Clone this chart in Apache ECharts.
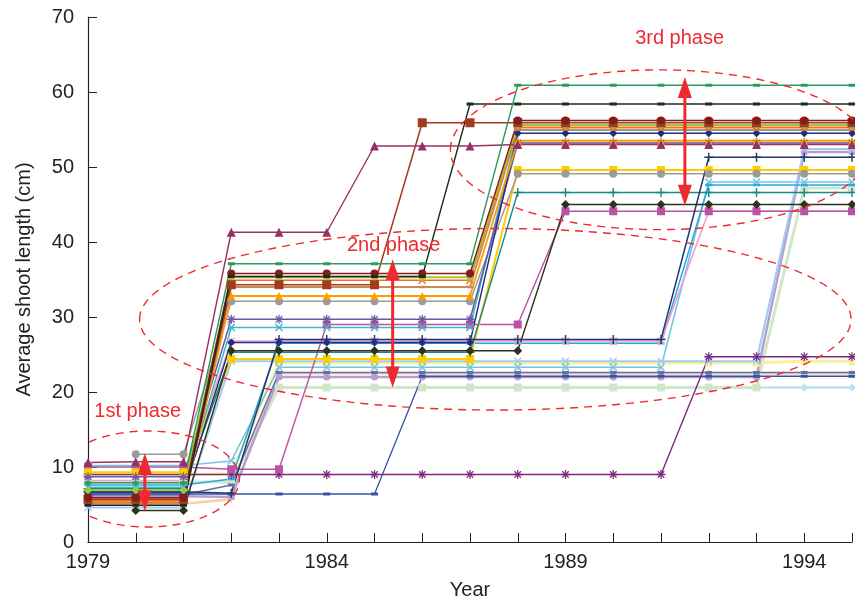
<!DOCTYPE html>
<html><head><meta charset="utf-8">
<script src="https://cdn.jsdelivr.net/npm/echarts@6/dist/echarts.min.js"></script>
<style>html,body{margin:0;padding:0;background:#fff}#c{width:855px;height:605px}</style>
</head><body><div id="c"></div>
<script>
// Years 1979..1995
const years = [1979,1980,1981,1982,1983,1984,1985,1986,1987,1988,1989,1990,1991,1992,1993,1994,1995];
const xLabelYears = [1979,1984,1989,1994];
const yTicks = [0,10,20,30,40,50,60,70];

// series values (cm), one per year; null = no observation
const sGreen     = [7.9,7.9,7.9,37.1,37.1,37.1,37.1,37.1,37.1,60.9,60.9,60.9,60.9,60.9,60.9,60.9,60.9];
const sBlack     = [4.9,4.9,4.9,35.4,35.4,35.4,35.4,35.4,58.4,58.4,58.4,58.4,58.4,58.4,58.4,58.4,58.4];
const sMaroon    = [5.9,5.9,5.9,35.8,35.8,35.8,35.8,35.8,35.8,56.2,56.2,56.2,56.2,56.2,56.2,56.2,56.2];
const sSienna    = [5.7,5.7,5.7,34.3,34.3,34.3,34.3,55.9,55.9,55.9,55.9,55.9,55.9,55.9,55.9,55.9,55.9];
const sLime      = [6.9,6.9,6.9,35.3,35.3,35.3,35.3,35.3,35.3,55.6,55.6,55.6,55.6,55.6,55.6,55.6,55.6];
const sOrangeRed = [5.5,5.5,5.5,34.9,34.9,34.9,34.9,34.9,34.9,55.3,55.3,55.3,55.3,55.3,55.3,55.3,55.3];
const sPeru      = [5.2,5.2,5.2,34.0,34.0,34.0,34.0,34.0,34.0,55.0,55.0,55.0,55.0,55.0,55.0,55.0,55.0];
const sNavyDia   = [6.6,6.6,6.6,26.6,26.6,26.6,26.6,26.6,26.6,54.5,54.5,54.5,54.5,54.5,54.5,54.5,54.5];
const sOrange    = [5.4,5.4,5.4,32.8,32.8,32.8,32.8,32.8,32.8,53.5,53.5,53.5,53.5,53.5,53.5,53.5,53.5];
const sPlum      = [10.6,10.7,10.7,41.3,41.3,41.3,52.8,52.8,52.8,53.0,53.0,53.0,53.0,53.0,53.0,53.0,53.0];
const sSlate     = [8.7,8.7,8.7,29.7,29.7,29.7,29.7,29.7,29.7,53.2,53.2,53.2,53.2,53.2,53.2,53.2,53.2];
const sTealCyan  = [7.3,7.3,7.3,28.6,28.6,28.6,28.6,28.6,28.6,54.9,54.9,54.9,54.9,54.9,54.9,54.9,54.9];
const sGold      = [9.3,9.3,9.3,24.4,24.4,24.4,24.4,24.4,24.4,49.6,49.6,49.6,49.6,49.6,49.6,49.6,49.6];
const sGrey      = [null,11.7,11.7,32.1,32.1,32.1,32.1,32.1,32.1,49.1,49.1,49.1,49.1,49.1,49.1,49.1,49.1];
const sTealPlus  = [7.1,7.1,7.1,25.3,25.3,25.3,25.3,25.3,25.3,46.6,46.6,46.6,46.6,46.6,46.6,46.6,46.6];
const sOlive     = [null,4.2,4.2,25.5,25.5,25.5,25.5,25.5,25.5,25.5,45.0,45.0,45.0,45.0,45.0,45.0,45.0];
const sMagenta   = [10.0,10.0,10.0,9.7,9.7,29.0,29.0,29.0,29.0,29.0,44.1,44.1,44.1,44.1,44.1,44.1,44.1];
const sPink      = [8.2,8.2,8.2,26.8,26.8,26.8,26.8,26.8,26.8,26.8,26.8,26.8,26.8,44.1,44.1,44.1,44.1];
const sNavyPlus  = [6.7,6.7,6.7,6.5,27.0,27.0,27.0,27.0,27.0,27.0,27.0,27.0,27.0,51.3,51.3,51.3,51.3];
const sSkyX      = [10.2,10.2,10.2,10.8,23.3,23.3,23.3,23.3,23.3,23.3,23.3,23.3,23.3,48.0,48.0,48.0,48.0];
const sDeepSky   = [7.6,7.6,7.6,8.4,26.5,26.5,26.5,26.5,26.5,26.5,26.5,26.5,26.5,47.6,47.6,47.6,47.6];
const sPaleYel   = [9.0,9.0,9.0,9.1,23.9,23.9,23.9,23.9,23.9,23.9,23.9,23.9,23.9,23.9,23.9,24.1,24.1];
const sLightBlue = [4.6,4.6,4.6,24.1,24.1,24.1,24.1,24.1,24.1,24.1,24.1,24.1,24.1,24.1,24.1,52.4,52.4];
const sLavender  = [6.1,6.1,6.1,6.0,22.0,22.0,22.0,22.0,22.0,22.0,22.0,22.0,22.0,22.0,22.0,52.0,52.0];
const sPaleGreen = [8.0,8.0,8.0,8.0,20.6,20.6,20.6,20.6,20.6,20.6,20.6,20.6,20.6,20.6,20.6,47.2,47.2];
const sPaleCyan  = [null,null,null,null,null,null,null,null,null,null,null,null,null,null,20.6,20.6,20.6];
const sSlateDash = [6.3,6.3,6.3,7.6,22.6,22.6,22.6,22.6,22.6,22.6,22.6,22.6,22.6,22.6,22.6,22.6,22.6];
const sRoyal     = [6.4,6.4,6.4,6.4,6.4,6.4,6.4,22.1,22.1,22.1,22.1,22.1,22.1,22.1,22.1,22.1,22.1];
const sPurpleX   = [9.0,9.0,9.0,9.0,9.0,9.0,9.0,9.0,9.0,9.0,9.0,9.0,9.0,24.7,24.7,24.7,24.7];
const sPeach     = [5.1,5.1,5.1,5.7,22.5,22.5,22.5,22.5,22.5,22.5,22.5,22.5,22.5,22.5,22.5,22.5,22.5];

const SYM_X = 'path://M0,1.3L1.3,0L5,3.7L8.7,0L10,1.3L6.3,5L10,8.7L8.7,10L5,6.3L1.3,10L0,8.7L3.7,5Z';
const SYM_PLUS = 'path://M4.2,0H5.8V4.2H10V5.8H5.8V10H4.2V5.8H0V4.2H4.2Z';
const SYM_STAR = 'path://M4.3,0H5.7V3.3L8.1,0.9L9.1,1.9L6.7,4.3H10V5.7H6.7L9.1,8.1L8.1,9.1L5.7,6.7V10H4.3V6.7L1.9,9.1L0.9,8.1L3.3,5.7H0V4.3H3.3L0.9,1.9L1.9,0.9L4.3,3.3Z';
const DASH = 'rect';

// style table (drawn in this order: pale first)
const seriesDefs = [
  {d:sPaleCyan,  c:'#bfe3ee', s:'diamond', z:8, w:2.5},
  {d:sPaleGreen, c:'#cfe7c9', s:'rect', z:8, w:3},
  {d:sPaleYel,   c:'#fbf09a', s:'triangle', z:8, w:3},
  {d:sPeach,     c:'#fbcf9f', s:SYM_PLUS, z:8, w:2.5},
  {d:sLavender,  c:'#b99dce', s:'circle', z:7, w:2.5},
  {d:sLightBlue, c:'#a2cbf2', s:SYM_X, z:8, w:2.2},
  {d:sSkyX,      c:'#72c6e4', s:SYM_X, z:8, w:1.6},
  {d:sDeepSky,   c:'#26a9e0', s:DASH, z:[7,2.5], w:1.5},
  {d:sPink,      c:'#f59cc8', s:SYM_X, z:8, w:1.6},
  {d:sSlateDash, c:'#6070a8', s:DASH, z:[7,3], w:1.5},
  {d:sRoyal,     c:'#3553a5', s:DASH, z:[7,3], w:1.3},
  {d:sPurpleX,   c:'#7b2a82', s:SYM_STAR, z:9, w:1.4},
  {d:sMagenta,   c:'#bb52a6', s:'rect', z:8, w:1.4},
  {d:sGold,      c:'#ffcc00', s:'rect', z:8, w:2},
  {d:sGrey,      c:'#9b9b9b', s:'circle', z:8, w:1.5},
  {d:sTealPlus,  c:'#17898a', s:SYM_PLUS, z:9, w:1.4},
  {d:sTealCyan,  c:'#3dbcc6', s:SYM_X, z:8, w:1.6},
  {d:sSlate,     c:'#6a5aa6', s:SYM_STAR, z:9, w:1.5},
  {d:sNavyPlus,  c:'#1f3a6e', s:SYM_PLUS, z:9, w:1.5},
  {d:sOlive,     c:'#2c3320', s:'diamond', z:9, w:1.4},
  {d:sNavyDia,   c:'#1f2d82', s:'diamond', z:8, w:1.4},
  {d:sOrange,    c:'#ff9d00', s:'triangle', z:8, w:1.8},
  {d:sPeru,      c:'#c98a5c', s:DASH, z:[7,2.5], w:1.8},
  {d:sOrangeRed, c:'#ff6b1f', s:SYM_X, z:8, w:1.3},
  {d:sLime,      c:'#98c93a', s:'diamond', z:9, w:1.8},
  {d:sSienna,    c:'#a23a1e', s:'rect', z:9, w:1.5},
  {d:sMaroon,    c:'#861b1b', s:'circle', z:8, w:1.4},
  {d:sBlack,     c:'#1c2a1c', s:DASH, z:[7,3], w:1.4},
  {d:sPlum,      c:'#963366', s:'triangle', z:9, w:1.4},
  {d:sGreen,     c:'#2c9c5c', s:DASH, z:[7,3], w:1.4}
];

const chart = echarts.init(document.getElementById('c'), null, {renderer:'canvas'});
const FONT = 'Liberation Sans, Arial, Helvetica, sans-serif';

const series = seriesDefs.map(def => ({
  type:'line',
  data: years.map((y,i)=>[y, def.d[i]]).filter(p=>p[1]!==null),
  symbol: def.s,
  symbolSize: def.z,
  symbolKeepAspect: true,
  showSymbol: true,
  showAllSymbol: true,
  lineStyle: {color:def.c, width:def.w},
  itemStyle: {color:def.c},
  emphasis: {disabled:true},
  silent: true,
  animation: false
}));

const option = {
  animation:false,
  backgroundColor:'#fff',
  grid:{left:88, right:0, top:17, bottom:62, containLabel:false},
  xAxis:{
    type:'value', min:1979, max:1995, interval:1,
    name:'Year', nameLocation:'middle', nameGap:38,
    nameTextStyle:{fontSize:20, color:'#222', fontFamily:FONT},
    axisLine:{show:true, lineStyle:{color:'#222', width:1.2}},
    axisTick:{show:true, inside:true, length:9, lineStyle:{color:'#222'}},
    axisLabel:{fontSize:20, color:'#222', fontFamily:FONT, margin:10,
      formatter:v=> xLabelYears.indexOf(v)>=0 ? String(v) : ''},
    splitLine:{show:false}
  },
  yAxis:{
    type:'value', min:yTicks[0], max:yTicks[yTicks.length-1], interval:10,
    name:'Average shoot length (cm)', nameLocation:'middle', nameGap:54,
    nameTextStyle:{fontSize:20, color:'#222', fontFamily:FONT},
    axisLine:{show:true, lineStyle:{color:'#222', width:1.2}},
    axisTick:{show:true, inside:true, length:9, lineStyle:{color:'#222'}},
    axisLabel:{fontSize:20, color:'#222', fontFamily:FONT, margin:14},
    splitLine:{show:false}
  },
  series: series
};
chart.setOption(option);

// annotations in data coordinates
const RED = '#ee2a2e';
const ellipses = [
  {cx:1980.25, cy:8.4,  rx:1.92, ry:6.4, clipLeft:true},
  {cx:1987.53, cy:29.7, rx:7.45, ry:12.1},
  {cx:1990.97, cy:52.3, rx:4.38, ry:10.65}
];
const arrows = [
  {x:1980.19, y1:4.1,  y2:11.85},
  {x:1985.38, y1:20.6, y2:37.7},
  {x:1991.5,  y1:44.85, y2:62.0}
];
const labels = [
  {x:1980.04, y:17.45, t:'1st phase'},
  {x:1985.40, y:39.5,  t:'2nd phase'},
  {x:1991.39, y:67.2,  t:'3rd phase'}
];
const P = (x,y)=>chart.convertToPixel({gridIndex:0},[x,y]);
const axisX = P(1979,0)[0];
const g = [];
ellipses.forEach(e=>{
  const c = P(e.cx,e.cy);
  const rx = P(e.cx+e.rx,e.cy)[0]-c[0];
  const ry = c[1]-P(e.cx,e.cy+e.ry)[1];
  let t0 = -Math.PI, t1 = Math.PI;
  if (e.clipLeft) {
    const tm = Math.acos(Math.max(-1,(axisX+1-c[0])/rx));
    t0 = -tm; t1 = tm;
  }
  const pts = [];
  const N = 240;
  for (let i=0;i<=N;i++){
    const t = t0+(t1-t0)*i/N;
    pts.push([c[0]+rx*Math.cos(t), c[1]+ry*Math.sin(t)]);
  }
  g.push({type:'polyline', shape:{points:pts}, silent:true, z:100,
    style:{stroke:RED, lineWidth:1.4, fill:null, lineDash:[8,6]}});
});
arrows.forEach(a=>{
  const p1 = P(a.x,a.y1), p2 = P(a.x,a.y2);
  const hl = 21, hw = 7;
  const x = p1[0];
  const yb = p1[1], yt = p2[1];
  g.push({type:'line', shape:{x1:x,y1:yb-hl+2,x2:x,y2:yt+hl-2}, silent:true, z:101,
    style:{stroke:RED, lineWidth:3}});
  g.push({type:'polygon', shape:{points:[[x,yt],[x-hw,yt+hl],[x+hw,yt+hl]]}, silent:true, z:101,
    style:{fill:RED}});
  g.push({type:'polygon', shape:{points:[[x,yb],[x-hw,yb-hl],[x+hw,yb-hl]]}, silent:true, z:101,
    style:{fill:RED}});
});
labels.forEach(l=>{
  const p = P(l.x,l.y);
  g.push({type:'text', x:p[0], y:p[1], silent:true, z:102,
    style:{text:l.t, fill:RED, font:'20px '+FONT, textAlign:'center', textVerticalAlign:'middle', align:'center', verticalAlign:'middle'}});
});
chart.setOption({graphic:{elements:g}});
</script>
</body></html>
